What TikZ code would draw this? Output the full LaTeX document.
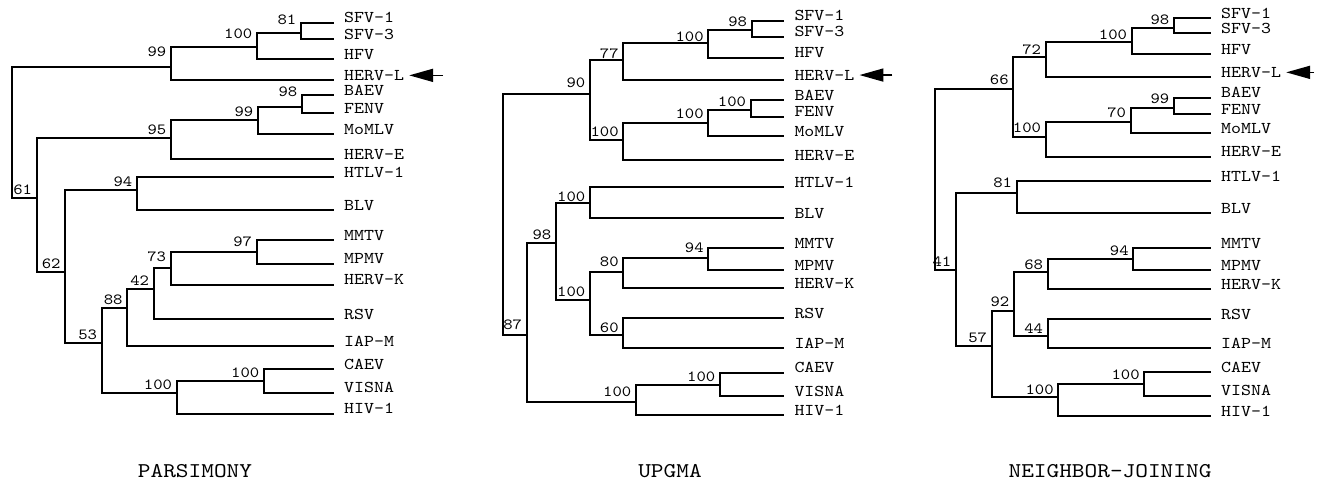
\documentclass[tikz,border=0pt]{standalone}
\usepackage{fontspec}
\newfontfamily\treefont{lmmono10-regular.otf}[FakeStretch=1.15]
\usetikzlibrary{arrows.meta}

\tikzset{
  branch/.style={line width=1.7pt, line cap=rect},
  taxon/.style={font=\treefont\fontsize{16.5}{18}\selectfont, inner sep=0pt, anchor=base west, xshift=11pt},
  boot/.style={font=\treefont\fontsize{15.5}{17}\selectfont, inner sep=0pt, anchor=south east, xshift=-4.5pt},
  method/.style={font=\treefont\fontsize{21}{24}\selectfont, inner sep=0pt, anchor=base},
  pointer/.style={-{Triangle[length=24pt,width=13pt]}, line width=1.7pt, shorten >=5pt},
}

\begin{document}
\begin{tikzpicture}[x=1pt, y=-1pt]
  \useasboundingbox (0,0) rectangle (1321,480);

  % 简约法
  \coordinate (p-root) at (12.3,130);
  \foreach \nm/\py/\lab in {sfv1/22.7/SFV-1, sfv3/39/SFV-3, hfv/59/HFV, hervl/80.3/HERV-L,
      baev/95.3/BAEV, fenv/113.3/FENV, momlv/134.3/MoMLV, herve/159.3/HERV-E,
      htlv/177.3/HTLV-1, blv/210.3/BLV, mmtv/240/MMTV, mpmv/263.7/MPMV,
      hervk/284.7/HERV-K, rsv/319/RSV, iapm/346/IAP-M, caev/369/CAEV,
      visna/392.7/VISNA, hiv/413.7/HIV-1} {
    \coordinate (p-\nm) at (333,\py);
    \node[taxon] (p-\nm-l) at (p-\nm) {\lab};
  }
  \foreach \nm/\px/\py/\lab/\sh in {a81/301/32.7/81/8, a100/257/46.7/100/8, a99/171/66.7/99/10,
      b98/302/106.7/98/10, b99/258/120.3/99/3, b95/171/137.7/95/3, c94/137/190/94/3,
      n61/36.7/198/61/3, n62/65.3/272/62/3, n53/101.7/343.3/53/3, n88/127.3/308.3/88/3,
      n42/153.7/289/42/3, n73/170.7/268.3/73/6, n97/256.7/251.7/97/5,
      h100/176.7/393.3/100/3, h100c/264/381/100/3} {
    \coordinate (p-\nm) at (\px,\py);
    \node[boot, yshift=\sh pt] (p-\nm-l) at (p-\nm) {\lab};
  }
  \foreach \pa/\ch in {root/a99, root/n61, a99/a100, a99/hervl, a100/a81, a100/hfv,
      a81/sfv1, a81/sfv3, n61/b95, n61/n62, b95/b99, b95/herve, b99/b98, b99/momlv,
      b98/baev, b98/fenv, n62/c94, n62/n53, c94/htlv, c94/blv, n53/n88, n53/h100,
      n88/n42, n88/iapm, n42/n73, n42/rsv, n73/n97, n73/hervk, n97/mmtv, n97/mpmv,
      h100/h100c, h100/hiv, h100c/caev, h100c/visna}
    \draw[branch] (p-\pa) |- (p-\ch);

  % UPGMA
  \coordinate (u-root) at (503.3,200);
  \foreach \nm/\py/\lab in {sfv1/20.7/SFV-1, sfv3/36.7/SFV-3, hfv/57.7/HFV, hervl/80/HERV-L,
      baev/100/BAEV, fenv/116.7/FENV, momlv/136/MoMLV, herve/160/HERV-E,
      htlv/187.3/HTLV-1, blv/218.3/BLV, mmtv/248.3/MMTV, mpmv/270/MPMV,
      hervk/288.3/HERV-K, rsv/318.3/RSV, iapm/348.3/IAP-M, caev/372.7/CAEV,
      visna/396/VISNA, hiv/415/HIV-1} {
    \coordinate (u-\nm) at (783.3,\py);
    \node[taxon] (u-\nm-l) at (u-\nm) {\lab};
  }
  \foreach \nm/\px/\py/\lab/\sh in {a98/751.7/30/98/3, a100/708.3/43.3/100/1.5, a77/623.3/60/77/1.5,
      a90/590/94/90/6, b100/623.3/140/100/3, b100c/708.3/123.3/100/4, b100d/750.7/110/100/3,
      c100/590/203.3/100/1, c98/556/243.3/98/3, c100f/590/300/100/3, c80/623.3/271.7/80/5,
      c94/708.3/258.3/94/5, c60/623.3/335/60/2, c87/526.7/335/87/5,
      h100/636/401.7/100/5, h100c/720/385/100/3} {
    \coordinate (u-\nm) at (\px,\py);
    \node[boot, yshift=\sh pt] (u-\nm-l) at (u-\nm) {\lab};
  }
  \foreach \pa/\ch in {root/a90, root/c87, a90/a77, a90/b100, a77/a100, a77/hervl,
      a100/a98, a100/hfv, a98/sfv1, a98/sfv3, b100/b100c, b100/herve, b100c/b100d,
      b100c/momlv, b100d/baev, b100d/fenv, c87/c98, c87/h100, c98/c100, c98/c100f,
      c100/htlv, c100/blv, c100f/c80, c100f/c60, c80/c94, c80/hervk, c94/mmtv,
      c94/mpmv, c60/rsv, c60/iapm, h100/h100c, h100/hiv, h100c/caev, h100c/visna}
    \draw[branch] (u-\pa) |- (u-\ch);

  % 邻接法
  \coordinate (v-root) at (935,180);
  \foreach \nm/\py/\lab in {sfv1/18.3/SFV-1, sfv3/33.3/SFV-3, hfv/54.3/HFV, hervl/77.3/HERV-L,
      baev/97.7/BAEV, fenv/114.3/FENV, momlv/133.3/MoMLV, herve/156.7/HERV-E,
      htlv/181/HTLV-1, blv/213.3/BLV, mmtv/248.3/MMTV, mpmv/270/MPMV,
      hervk/289/HERV-K, rsv/319/RSV, iapm/348.3/IAP-M, caev/372.3/CAEV,
      visna/395.7/VISNA, hiv/416/HIV-1} {
    \coordinate (v-\nm) at (1210,\py);
    \node[taxon] (v-\nm-l) at (v-\nm) {\lab};
  }
  \foreach \nm/\px/\py/\lab/\sh in {a98/1174/28.3/98/3, a100/1131.7/41.7/100/2, a72/1045.7/57.3/72/2.5,
      a66/1013.3/89.3/66/4, b100/1045.7/136.7/100/3.5, b70/1130.7/121.7/70/3.5, b99/1174/108.3/99/4,
      c81/1016.7/192.7/81/4.5, c41/956/270/41/3, c57/991.7/346/57/3, c92/1014/310.7/92/3.5,
      c68/1047.7/271.7/68/2, c94/1133.3/259.3/94/3, c44/1047.7/335.7/44/2.5,
      h100/1058.3/396.7/100/2, h100c/1144.3/384.3/100/4} {
    \coordinate (v-\nm) at (\px,\py);
    \node[boot, yshift=\sh pt] (v-\nm-l) at (v-\nm) {\lab};
  }
  \foreach \pa/\ch in {root/a66, root/c41, a66/a72, a66/b100, a72/a100, a72/hervl,
      a100/a98, a100/hfv, a98/sfv1, a98/sfv3, b100/b70, b100/herve, b70/b99, b70/momlv,
      b99/baev, b99/fenv, c41/c81, c41/c57, c81/htlv, c81/blv, c57/c92, c57/h100,
      c92/c68, c92/c44, c68/c94, c68/hervk, c94/mmtv, c94/mpmv, c44/rsv, c44/iapm,
      h100/h100c, h100/hiv, h100c/caev, h100c/visna}
    \draw[branch] (v-\pa) |- (v-\ch);

  % HERV-L 箭头
  \coordinate (p-tail) at ([xshift=39pt]p-hervl-l.east);
  \coordinate (u-tail) at ([xshift=38pt]u-hervl-l.east);
  \coordinate (v-tail) at ([xshift=33pt]v-hervl-l.east);
  \draw[pointer] (p-tail) -- (p-hervl-l.east);
  \draw[pointer] (u-tail) -- (u-hervl-l.east);
  \draw[pointer] (v-tail) -- (v-hervl-l.east);

  \node[method] (p-title) at (195,477)  {PARSIMONY};
  \node[method] (u-title) at (670,477)  {UPGMA};
  \node[method] (v-title) at (1110,477) {NEIGHBOR-JOINING};
\end{tikzpicture}
\end{document}
